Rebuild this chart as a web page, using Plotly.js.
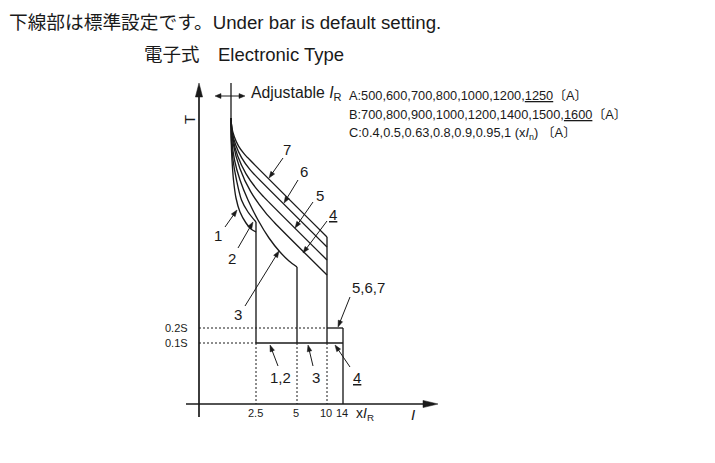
<!DOCTYPE html>
<html><head><meta charset="utf-8">
<script src="https://cdn.plot.ly/plotly-3.0.1.min.js"></script>
<style>html,body{margin:0;padding:0;background:#fff}</style>
</head><body><div id="chart" style="width:715px;height:463px"></div>
<script>
// ---------------- data (schematic units: u = right of T axis, v = up from I axis) ----------------
const curveNames = ['1','2','3','4','5','6','7'];
const curveU = [
  [32,32.2,33,34.5,37,41,47,52,57],
  [32,32.4,34,37.5,42.5,49,57],
  [32,32.8,35.5,41,49,59,70,81,90,98],
  [32,34.2,40.9,51.7,66.5,75.1,128],
  [32,33.7,38.7,46.9,58,64.5,128],
  [32,33.2,36.8,42.7,50.6,55.3,128],
  [32,32.8,35.4,39.4,45,48.3,128]
];
const curveV = [
  [286,264,244,224,206,192,181,175,172],
  [286,264,244,224,204,192,182],
  [286,264,244,224,204,184,166,152,143,137],
  [286,260.4,235.6,212.3,191.3,181.8,129],
  [286,266.7,248,230.4,214.6,207.4,144],
  [286,272.2,258.7,246.1,234.8,229.6,157],
  [286,276.3,267,258.2,250.3,246.7,167]
];
const adjTop = 321;                       // top of the adjustable I_R line
const pickupLabels = ['2.5','5','10','14'];
const pickupU = [57, 98, 128, 144];
const timeLabels = ['0.2S','0.1S'];
const timeV = [76, 61];
const rangeA = 'A:500,600,700,800,1000,1200,<u>1250</u>〔A〕';
const rangeB = 'B:700,800,900,1000,1200,1400,1500,<u>1600</u>〔A〕';
const rangeC = 'C:0.4,0.5,0.63,0.8,0.9,0.95,1 (x<i>I</i><sub>n</sub>) 〔A〕';

// ---------------- build ----------------
const INK = '#1a1a1a';
const FONT = "'Liberation Sans', Arial, 'Noto Sans CJK JP', sans-serif";
const traces = [];
function line(xs, ys, w, dash){
  traces.push({x:xs, y:ys, mode:'lines', line:{color:INK, width:w, dash:dash||'solid'}, hoverinfo:'skip', showlegend:false});
}
function head(tip, tail, len, hw){
  const dx = tip[0]-tail[0], dy = tip[1]-tail[1];
  const L = Math.hypot(dx,dy); const ux = dx/L, uy = dy/L;
  const bx = tip[0]-ux*len, by = tip[1]-uy*len;
  traces.push({x:[tip[0], bx-uy*hw, bx+uy*hw, tip[0]], y:[tip[1], by+ux*hw, by-ux*hw, tip[1]],
    mode:'lines', fill:'toself', fillcolor:INK, line:{color:INK, width:0.5}, hoverinfo:'skip', showlegend:false});
}

// axes
const yAx = {u:0, v0:-13, v1:adjTop};
const xAx = {v:0, u0:-13, u1:239};
line([0,0],[yAx.v0,yAx.v1-8],1.7);
head([0,yAx.v1],[0,yAx.v0],14,3.6);
line([xAx.u0,xAx.u1-8],[0,0],1.7);
head([xAx.u1,0],[xAx.u0,0],15,3.6);

// adjustable common vertical
line([32,32],[adjTop,curveV[0][0]],1.3);
// curves
curveNames.forEach((n,i)=>{
  traces.push({x:curveU[i], y:curveV[i], mode:'lines', name:n,
    line:{color:INK, width:1.35, shape:'spline', smoothing:0.8}, hoverinfo:'skip', showlegend:false});
});
const last = a => a[a.length-1];
const t01 = timeV[1], t02 = timeV[0];
// solid step parts
line([pickupU[0],pickupU[0]],[last(curveV[1]),t01],1.35);
line([pickupU[1],pickupU[1]],[last(curveV[2]),t01],1.35);
line([pickupU[2],pickupU[2]],[last(curveV[6]),t01],1.35);
line([pickupU[0],pickupU[3]],[t01,t01],1.35);
line([pickupU[2],pickupU[3]],[t02,t02],1.35);
line([pickupU[3],pickupU[3]],[t02,0],1.35);
// dotted guides
const DOT = '2px,2px';
line([0,pickupU[2]],[t02,t02],1,DOT);
line([0,pickupU[0]],[t01,t01],1,DOT);
[0,1,2].forEach(k=>line([pickupU[k],pickupU[k]],[t01,0],1,DOT));

// adjustable double arrow
line([20,42],[308,308],1);
head([16,308],[45,308],6,2.4);
head([46,308],[16,308],6,2.4);

// labels with leader arrows
const leaders = [
  {t:'1', at:[19,169], tail:[26,177], tip:[38,194]},
  {t:'2', at:[33,146], tail:[39,156], tip:[54,182]},
  {t:'3', at:[39,90],  tail:[46,98],  tip:[80,153]},
  {t:'<u>4</u>', at:[134,190], tail:[128,183], tip:[104,151]},
  {t:'5', at:[121,209], tail:[114,202], tip:[96,176]},
  {t:'6', at:[105,233], tail:[99,224], tip:[85,201]},
  {t:'7', at:[88,255], tail:[84,246], tip:[70,226]},
  {t:'5,6,7', at:[169,117], tail:[151,107], tip:[139,77]},
  {t:'1,2', at:[81,27], tail:[79,38], tip:[71,59]},
  {t:'3', at:[117,27], tail:[114,38], tip:[109,59]},
  {t:'<u>4</u>', at:[158,27], tail:[151,37], tip:[136,59]}
];
const ann = [];
function txt(x,y,t,size,xa,extra){
  ann.push(Object.assign({x:x,y:y,xref:'x',yref:'y',text:t,showarrow:false,xanchor:xa||'center',yanchor:'middle',
    font:{family:FONT,size:size,color:INK}},extra||{}));
}
leaders.forEach(L=>{
  const dx=L.tip[0]-L.tail[0], dy=L.tip[1]-L.tail[1], Ln=Math.hypot(dx,dy);
  line([L.tail[0], L.tip[0]-dx/Ln*4],[L.tail[1], L.tip[1]-dy/Ln*4],1);
  head(L.tip,L.tail,6.5,2.3);
  txt(L.at[0],L.at[1],L.t,15);
});

// axis texts
txt(-10,284,'T',15,'center',{textangle:-90});
timeLabels.forEach((t,i)=>txt(-9,timeV[i],t,11,'right'));
pickupLabels.forEach((t,i)=>txt(pickupU[i]-1,-9,t,11,'center'));
txt(166,-10,'x<i>I</i><sub>R</sub>',14,'center');
txt(214,-10,'<i>I</i>',15,'center');

// header texts
txt(50,311,'Adjustable <i>I</i><sub>R</sub>',15.8,'left');
txt(148,309,rangeA,12.8,'left');
txt(148,290,rangeB,12.8,'left');
txt(148,271,rangeC,12.8,'left');
txt(-192,382,'下線部は標準設定です。Under bar is default setting.',18.7,'left');
txt(-57,350,'電子式　Electronic Type',18.5,'left');

const layout = {
  width:715, height:463, margin:{l:0,r:0,t:0,b:0,pad:0},
  paper_bgcolor:'#fff', plot_bgcolor:'#fff', showlegend:false,
  xaxis:{range:[-199,516], visible:false, fixedrange:true},
  yaxis:{range:[-59,404], visible:false, fixedrange:true},
  annotations:ann
};
Plotly.newPlot('chart', traces, layout, {displayModeBar:false, staticPlot:true});
</script></body></html>
